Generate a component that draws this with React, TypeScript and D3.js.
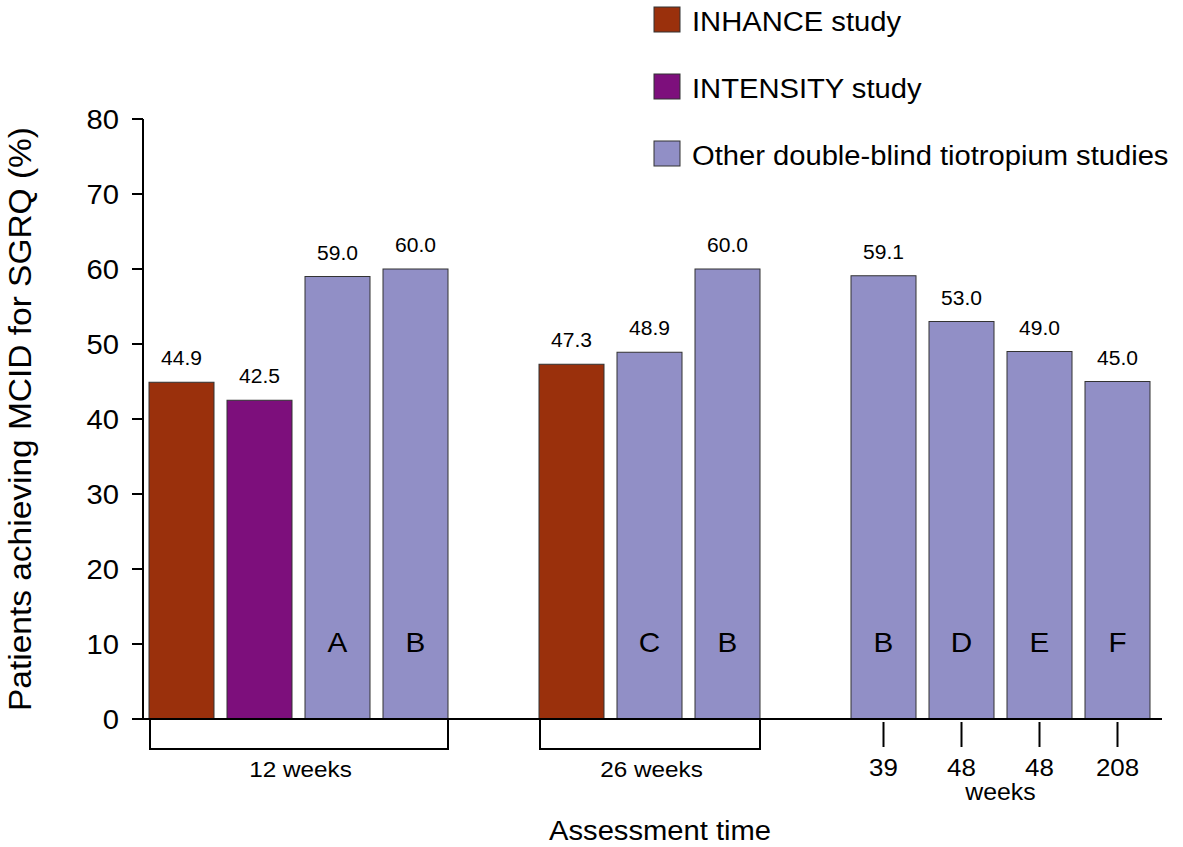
import { useMemo } from "react"
import * as d3 from "d3"

// bars in drawing order
const studies = ["INHANCE", "INTENSITY", "Other", "Other", "INHANCE", "Other", "Other", "Other", "Other", "Other", "Other"]
const values = [44.9, 42.5, 59.0, 60.0, 47.3, 48.9, 60.0, 59.1, 53.0, 49.0, 45.0]
const barLetters = ["", "", "A", "B", "", "C", "B", "B", "D", "E", "F"]
const groupOf = [0, 0, 0, 0, 1, 1, 1, 2, 2, 2, 2]
const groupLabels = ["12 weeks", "26 weeks", "weeks"]
const weekLabels = ["", "", "", "", "", "", "", "39", "48", "48", "208"]
const legendKeys = ["INHANCE", "INTENSITY", "Other"]
const legendLabels = ["INHANCE study", "INTENSITY study", "Other double-blind tiotropium studies"]
const yTicks = [0, 10, 20, 30, 40, 50, 60, 70, 80]

const W = 1183
const H = 847
const FONT = "'Liberation Sans', Arial, sans-serif"
const SX = 1.08 // the original lettering runs a bit wider than Arial

const colors = d3.scaleOrdinal<string, string>()
  .domain(legendKeys)
  .range(["#9a300c", "#7d0f7c", "#918fc6"])

type TProps = { x: number, y: number, size: number, anchor?: string, rotate?: number, children: any }

// text with the slight horizontal stretch
const T = ({ x, y, size, anchor = "start", rotate, children }: TProps) => (
  <text
    transform={`translate(${x},${y})${rotate ? ` rotate(${rotate})` : ""} scale(${SX},1)`}
    textAnchor={anchor}
    fontSize={size}
  >
    {children}
  </text>
)

const App = () => {
  const margin = { top: 119, right: 33, bottom: 128, left: 143 }
  const baseY = H - margin.bottom

  // one slot per bar plus an empty slot between groups
  const slots = useMemo(() => {
    let s = 0
    return groupOf.map((g, i) => {
      if (i > 0 && g !== groupOf[i - 1]) s++
      return s++
    })
  }, [])

  const x = d3.scaleBand<number>()
    .domain(d3.range(slots[slots.length - 1] + 1))
    .range([149, W - margin.right])
    .paddingInner(1 / 6)
    .paddingOuter(0)

  const y = d3.scaleLinear().domain([0, 80]).range([baseY, margin.top])
  const bw = x.bandwidth()
  const cx = (i: number) => x(slots[i])! + bw / 2

  const groups = d3.range(groupLabels.length).map(g => {
    const idx = groupOf.map((v, i) => (v === g ? i : -1)).filter(i => i >= 0)
    const x0 = x(slots[idx[0]])!
    const x1 = x(slots[idx[idx.length - 1]])! + bw
    return { g, idx, x0, x1 }
  })

  return (
    <svg width={W} height={H} style={{ position: "absolute", left: 0, top: 0, background: "#fff" }} fontFamily={FONT}>
      {/* legend */}
      {legendKeys.map((k, i) => (
        <g key={k} transform={`translate(654, ${7 + i * 67})`}>
          <rect width={26} height={25} fill={colors(k)} stroke="#333" strokeWidth={1} />
          <T x={38} y={24} size={27}>{legendLabels[i]}</T>
        </g>
      ))}

      {/* bars */}
      {values.map((v, i) => (
        <g key={i}>
          <rect x={x(slots[i])} y={y(v)} width={bw} height={y(0) - y(v)}
            fill={colors(studies[i])} stroke="#333" strokeWidth={1} />
          <T x={cx(i)} y={y(v) - 17} anchor="middle" size={19.5}>{v.toFixed(1)}</T>
          {barLetters[i] && (
            <T x={cx(i)} y={y(10) + 8} anchor="middle" size={27.5}>{barLetters[i]}</T>
          )}
        </g>
      ))}

      {/* y axis */}
      <line x1={margin.left} x2={margin.left} y1={y(80)} y2={baseY} stroke="#000" strokeWidth={2} />
      {yTicks.map(t => (
        <g key={t}>
          <line x1={margin.left - 11} x2={margin.left} y1={y(t)} y2={y(t)} stroke="#000" strokeWidth={2} />
          <T x={119} y={y(t) + 10} anchor="end" size={27}>{t}</T>
        </g>
      ))}
      <line x1={margin.left - 11} x2={1162} y1={baseY} y2={baseY} stroke="#000" strokeWidth={2} />

      {/* group brackets and week ticks */}
      {groups.map(gr => gr.g < 2 ? (
        <g key={gr.g}>
          <path d={`M${gr.x0 + 1},${baseY} V${baseY + 30} H${gr.x1} V${baseY}`} fill="none" stroke="#000" strokeWidth={2} />
          <T x={(gr.x0 + gr.x1) / 2 + 2} y={baseY + 58} anchor="middle" size={22.5}>{groupLabels[gr.g]}</T>
        </g>
      ) : (
        <g key={gr.g}>
          {gr.idx.map(i => (
            <g key={i}>
              <line x1={cx(i)} x2={cx(i)} y1={baseY + 3} y2={baseY + 28} stroke="#000" strokeWidth={2} />
              <T x={cx(i)} y={baseY + 57} anchor="middle" size={24}>{weekLabels[i]}</T>
            </g>
          ))}
          <T x={(gr.x0 + gr.x1) / 2} y={baseY + 81} anchor="middle" size={23}>{groupLabels[gr.g]}</T>
        </g>
      ))}

      {/* axis titles */}
      <T x={660} y={840} anchor="middle" size={27}>Assessment time</T>
      <T x={31} y={(y(0) + y(80)) / 2} anchor="middle" rotate={-90} size={31}>
        Patients achieving MCID for SGRQ (%)
      </T>
    </svg>
  )
}

export default App
